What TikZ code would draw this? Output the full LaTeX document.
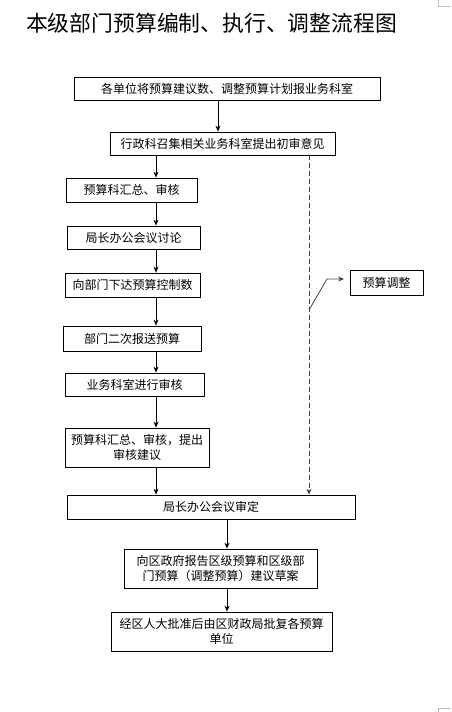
\documentclass[tikz,border=0pt]{standalone}
\usepackage{fontspec}
\newfontfamily\cjk{Noto Sans CJK SC}
\usetikzlibrary{arrows.meta}
\tikzset{
  box/.style={draw, line width=.8pt, inner sep=1pt, align=center, font=\cjk\fontsize{12}{15}\selectfont},
  arr/.style={line width=.8pt, -{Stealth[length=6pt,width=5pt]}},
}
\begin{document}
\begin{tikzpicture}[x=1pt,y=-1pt]
\useasboundingbox (0,0) rectangle (451,712);

\node[font=\cjk\fontsize{21.8}{24}\selectfont] (title) at (211.5,23) {本级部门预算编制、执行、调整流程图};

\node[box,minimum width=306pt,minimum height=23pt] (b1) at (227,88.5) {各单位将预算建议数、调整预算计划报业务科室};
\node[box,minimum width=225pt,minimum height=23pt] (b2) at (222.5,143.5) {行政科召集相关业务科室提出初审意见};
\node[box,minimum width=131pt,minimum height=24pt] (b3) at (131.5,190) {预算科汇总、审核};
\node[box,minimum width=133pt,minimum height=23pt] (b4) at (133.5,237.5) {局长办公会议讨论};
\node[box,minimum width=135pt,minimum height=24pt] (b5) at (132.5,285) {向部门下达预算控制数};
\node[box,minimum width=138pt,minimum height=25pt] (b6) at (132,338.5) {部门二次报送预算};
\node[box,minimum width=139pt,minimum height=23pt] (b7) at (134.5,384.5) {业务科室进行审核};
\node[box,minimum width=144pt,minimum height=39pt] (b8) at (137,447.5) {预算科汇总、审核，提出\\审核建议};
\node[box,minimum width=288pt,minimum height=24pt] (b9) at (211,507) {局长办公会议审定};
\node[box,minimum width=193pt,minimum height=39pt] (b10) at (220.5,568.5) {向区政府报告区级预算和区级部\\门预算（调整预算）建议草案};
\node[box,minimum width=221pt,minimum height=39pt] (b11) at (221.5,631.5) {经区人大批准后由区财政局批复各预算\\单位};
\node[box,minimum width=73pt,minimum height=25pt] (adj) at (386.5,282.5) {预算调整};

\coordinate (colL) at (156,0);
\coordinate (colM) at (227,0);
\coordinate (colR) at (309,0);

\draw[arr] ([xshift=-9pt]b1.south) -- ([xshift=-4.5pt]b2.north);
\draw[arr] (b2.south -| colL) -- (b3.north -| colL);
\draw[arr] (b3.south -| colL) -- (b4.north -| colL);
\draw[arr] (b4.south -| colL) -- (b5.north -| colL);
\draw[arr] (b5.south -| colL) -- (b6.north -| colL);
\draw[arr] (b6.south -| colL) -- (b7.north -| colL);
\draw[arr] (b7.south -| colL) -- (b8.north -| colL);
\draw[arr] (b8.south -| colL) -- (b9.north -| colL);
\draw[arr] (b9.south -| colM) -- (b10.north -| colM);
\draw[arr] (b10.south -| colM) -- (b11.north -| colM);

% adjustment branch
\draw[arr,black!75,dash pattern=on 5pt off 3pt] (b2.south -| colR) -- (b9.north -| colR);
\coordinate (br) at (309,310);
\coordinate (bend) at (327,279);
\coordinate (tip) at (344,279);
\draw[arr,black!75] (br) -- (bend) -- (tip);

% page corner marks
\draw[gray!50] (438,0) -- (438,6) -- (451,6);
\draw[gray!50] (451,708) -- (438,708) -- (438,712);
\end{tikzpicture}
\end{document}
